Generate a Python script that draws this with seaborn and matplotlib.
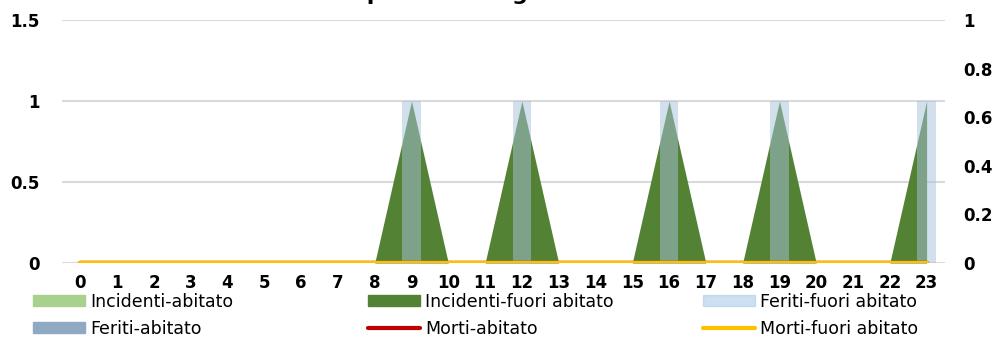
import matplotlib
matplotlib.use("Agg")
import matplotlib.pyplot as plt
import seaborn as sns
import pandas as pd
from matplotlib.patches import Patch
from matplotlib.lines import Line2D

# dati per ora del giorno
ore = list(range(24))
incidenti_abitato = [0] * 24
incidenti_fuori = [0, 0, 0, 0, 0, 0, 0, 0, 0, 1, 0, 0,
                   1, 0, 0, 0, 1, 0, 0, 1, 0, 0, 0, 1]
feriti_abitato = [0] * 24
feriti_fuori = [0, 0, 0, 0, 0, 0, 0, 0, 0, 1, 0, 0,
                1, 0, 0, 0, 1, 0, 0, 1, 0, 0, 0, 1]
morti_abitato = [0] * 24
morti_fuori = [0] * 24

left_ticks = [0, 0.5, 1, 1.5]
left_labels = ['0', '0.5', '1', '1.5']
right_ticks = [0, 0.2, 0.4, 0.6, 0.8, 1]
right_labels = ['0', '0.2', '0.4', '0.6', '0.8', '1']

df = pd.DataFrame({'ora': ore,
                   'inc_ab': incidenti_abitato, 'inc_fu': incidenti_fuori,
                   'fer_ab': feriti_abitato, 'fer_fu': feriti_fuori,
                   'mor_ab': morti_abitato, 'mor_fu': morti_fuori})

sns.set_style('white')
plt.rcParams['font.family'] = ['DejaVu Sans']
plt.rcParams['text.color'] = 'black'

C_INC_AB = '#A9D18E'
C_INC_FU = '#548235'
C_FER_AB = '#8EA9C1'
C_FER_FU = '#9DC3E6'
C_MOR_AB = '#C00000'
C_MOR_FU = '#FFC000'

fig = plt.figure(figsize=(9.95, 3.38), dpi=100)
ax = fig.add_axes([62 / 995, 1 - 263 / 338, (945 - 62) / 995, (263 - 20) / 338])

# aree
ax.fill_between(df['ora'], df['inc_ab'], color=C_INC_AB, lw=0, zorder=2)
ax.fill_between(df['ora'], df['inc_fu'], color=C_INC_FU, lw=0, zorder=2)

# barre feriti
sns.barplot(data=df, x='ora', y='fer_ab', native_scale=True, width=0.5,
            color=C_FER_AB, linewidth=0, ax=ax, zorder=3)
sns.barplot(data=df, x='ora', y='fer_fu', native_scale=True, width=0.5,
            color=C_FER_FU, alpha=0.5, linewidth=0, ax=ax, zorder=3)

ax.set_xlim(-0.5, 23.5)
ax.set_ylim(0, 1.5)
ax.set_yticks(left_ticks)
ax.set_yticklabels(left_labels)
ax.set_xticks(ore)
ax.set_xticklabels([str(h) for h in ore])
ax.set_xlabel('')
ax.set_ylabel('')
ax.grid(axis='y', color='#D9D9D9', lw=1.5, zorder=0)
ax.set_axisbelow(True)
for s in ax.spines.values():
    s.set_visible(False)
ax.tick_params(axis='both', length=0, labelsize=12, labelcolor='black')
ax.tick_params(axis='y', pad=16)
ax.tick_params(axis='x', pad=8)
for t in ax.get_xticklabels() + ax.get_yticklabels():
    t.set_fontweight('bold')

# linee morti su asse secondario
ax2 = ax.twinx()
sns.lineplot(data=df, x='ora', y='mor_ab', color=C_MOR_AB, lw=3.2,
             ax=ax2, solid_capstyle='round')
sns.lineplot(data=df, x='ora', y='mor_fu', color=C_MOR_FU, lw=3.2,
             ax=ax2, solid_capstyle='round')
ax2.set_ylim(0, 1)
ax2.set_yticks(right_ticks)
ax2.set_yticklabels(right_labels)
ax2.set_ylabel('')
for s in ax2.spines.values():
    s.set_visible(False)
ax2.tick_params(axis='y', length=0, labelsize=12, pad=13, labelcolor='black')
for t in ax2.get_yticklabels():
    t.set_fontweight('bold')

# titolo (tagliato in alto come nell'originale)
fig.text(0.515, 1 + 0.5 / 338, 'Incidenti per ora del giorno - fuori abitato',
         ha='center', va='baseline', fontsize=16, fontweight='bold')

# legenda a tre colonne a larghezza fissa
cols = [
    [(Patch(color=C_INC_AB), 'Incidenti-abitato'),
     (Patch(color=C_FER_AB), 'Feriti-abitato')],
    [(Patch(color=C_INC_FU), 'Incidenti-fuori abitato'),
     (Line2D([], [], color=C_MOR_AB, lw=3), 'Morti-abitato')],
    [(Patch(color=C_FER_FU, alpha=0.5), 'Feriti-fuori abitato'),
     (Line2D([], [], color=C_MOR_FU, lw=3), 'Morti-fuori abitato')],
]
x_starts = [33, 368, 703]
for xs, col in zip(x_starts, cols):
    fig.legend([h for h, _ in col], [l for _, l in col],
               loc='upper left', bbox_to_anchor=(xs / 995, 1 - 293 / 338),
               frameon=False, fontsize=12.5, handlelength=3.0,
               handleheight=0.6, handletextpad=0.3, labelspacing=0.5,
               borderpad=0, borderaxespad=0)

fig.savefig('out.png', dpi=100)
